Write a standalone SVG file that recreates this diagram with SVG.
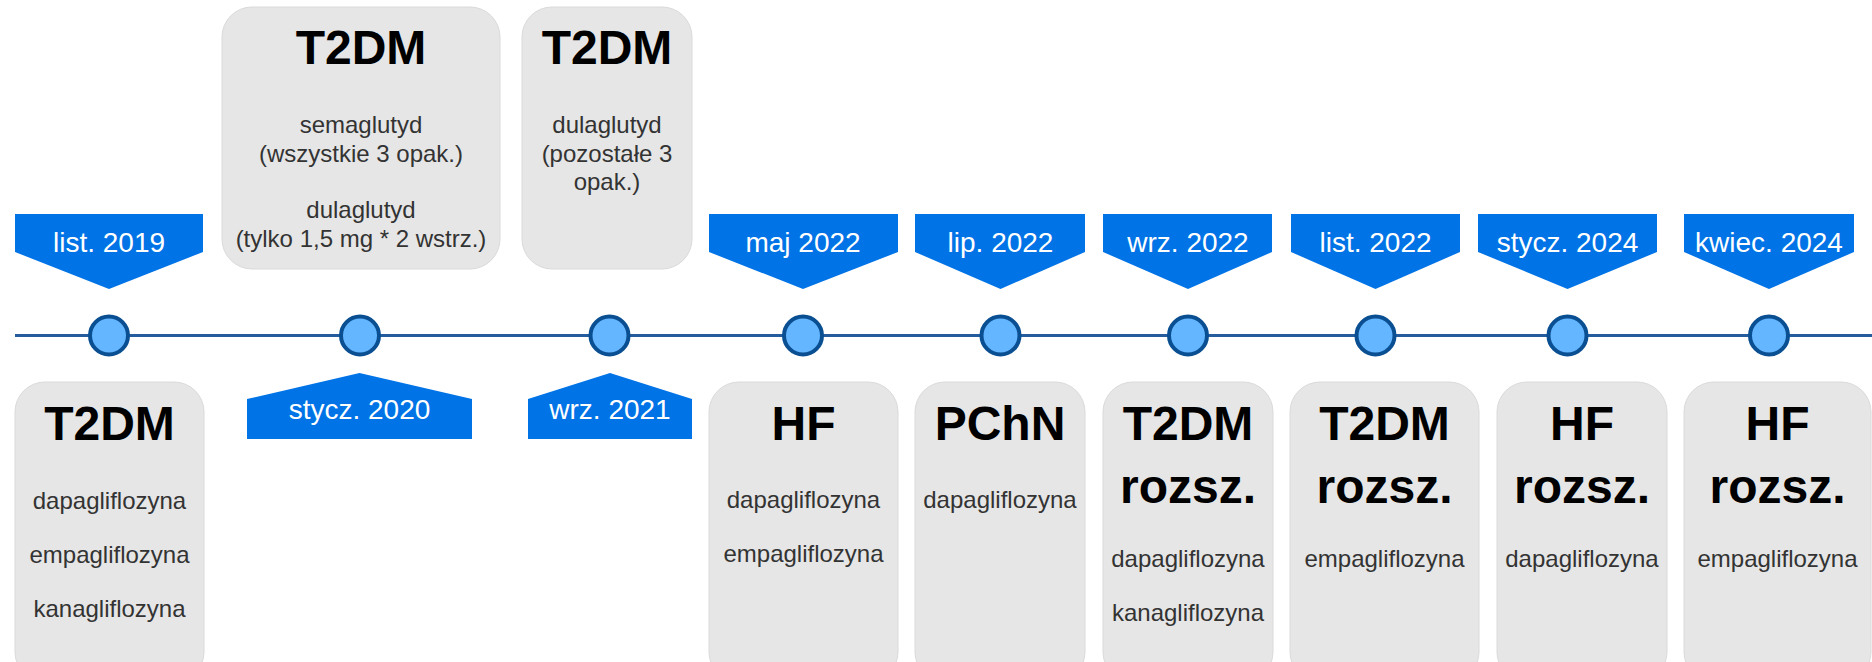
<svg xmlns="http://www.w3.org/2000/svg" width="1872" height="662" viewBox="0 0 1872 662">
<style>
.box{fill:#e6e6e6;stroke:#dadada;stroke-width:1}
.ban{fill:#0073e6}
.bt{font-family:"Liberation Sans",Arial,sans-serif;font-size:28px;fill:#ffffff;text-anchor:middle}
.ti{font-family:"Liberation Sans",Arial,sans-serif;font-size:48px;font-weight:bold;fill:#000000;text-anchor:middle}
.tx{font-family:"Liberation Sans",Arial,sans-serif;font-size:24px;fill:#333333;text-anchor:middle}
.dot{fill:#63b6ff;stroke:#0b4f93;stroke-width:4}
</style>
<g id="connectors">
<line x1="15" y1="335.5" x2="1872" y2="335.5" stroke="#245c9e" stroke-width="3"/>
</g>
<g id="dots">
<circle class="dot" cx="109" cy="335.5" r="19"/>
<circle class="dot" cx="360" cy="335.5" r="19"/>
<circle class="dot" cx="609.5" cy="335.5" r="19"/>
<circle class="dot" cx="803" cy="335.5" r="19"/>
<circle class="dot" cx="1000.5" cy="335.5" r="19"/>
<circle class="dot" cx="1188" cy="335.5" r="19"/>
<circle class="dot" cx="1375.5" cy="335.5" r="19"/>
<circle class="dot" cx="1567.5" cy="335.5" r="19"/>
<circle class="dot" cx="1769" cy="335.5" r="19"/>
</g>
<g id="b-lis2019"><polygon class="ban" points="15,214 203,214 203,252 109,289 15,252"/><text class="bt" x="109" y="252">list. 2019</text></g>
<g id="b-sty2020"><polygon class="ban" points="247,439 472,439 472,399 359.5,373 247,399"/><text class="bt" x="359.5" y="419">stycz. 2020</text></g>
<g id="b-wrz2021"><polygon class="ban" points="528,439 692,439 692,399 610,373 528,399"/><text class="bt" x="610" y="419">wrz. 2021</text></g>
<g id="b-maj2022"><polygon class="ban" points="709,214 898,214 898,252 803,289 709,252"/><text class="bt" x="803" y="252">maj 2022</text></g>
<g id="b-lip2022"><polygon class="ban" points="915,214 1085,214 1085,252 1000.5,289 915,252"/><text class="bt" x="1000.5" y="252">lip. 2022</text></g>
<g id="b-wrz2022"><polygon class="ban" points="1103,214 1272,214 1272,252 1188,289 1103,252"/><text class="bt" x="1188" y="252">wrz. 2022</text></g>
<g id="b-lis2022"><polygon class="ban" points="1291,214 1460,214 1460,252 1375.5,289 1291,252"/><text class="bt" x="1375.5" y="252">list. 2022</text></g>
<g id="b-sty2024"><polygon class="ban" points="1478,214 1657,214 1657,252 1567.5,289 1478,252"/><text class="bt" x="1567.5" y="252">stycz. 2024</text></g>
<g id="b-kwi2024"><polygon class="ban" points="1684,214 1854,214 1854,252 1769,289 1684,252"/><text class="bt" x="1769" y="252">kwiec. 2024</text></g>

<g id="n-top1"><rect class="box" x="222" y="7" width="278" height="262" rx="30"/>
<text class="ti" x="361" y="64">T2DM</text>
<text class="tx" x="361" y="133">semaglutyd</text>
<text class="tx" x="361" y="161.5">(wszystkie 3 opak.)</text>
<text class="tx" x="361" y="218">dulaglutyd</text>
<text class="tx" x="361" y="246.5">(tylko 1,5 mg * 2 wstrz.)</text></g>
<g id="n-top2"><rect class="box" x="522" y="7" width="170" height="262" rx="30"/>
<text class="ti" x="607" y="64">T2DM</text>
<text class="tx" x="607" y="133">dulaglutyd</text>
<text class="tx" x="607" y="161.5">(pozostałe 3</text>
<text class="tx" x="607" y="190">opak.)</text></g>

<g id="n-bot1"><rect class="box" x="15" y="382" width="189" height="300" rx="30"/>
<text class="ti" x="109.5" y="440">T2DM</text>
<text class="tx" x="109.5" y="509">dapagliflozyna</text>
<text class="tx" x="109.5" y="563">empagliflozyna</text>
<text class="tx" x="109.5" y="617">kanagliflozyna</text></g>
<g id="n-bot2"><rect class="box" x="709" y="382" width="189" height="300" rx="30"/>
<text class="ti" x="803.5" y="440">HF</text>
<text class="tx" x="803.5" y="508">dapagliflozyna</text>
<text class="tx" x="803.5" y="562">empagliflozyna</text></g>
<g id="n-bot3"><rect class="box" x="915" y="382" width="170" height="300" rx="30"/>
<text class="ti" x="1000" y="440">PChN</text>
<text class="tx" x="1000" y="508">dapagliflozyna</text></g>
<g id="n-bot4"><rect class="box" x="1103" y="382" width="170" height="300" rx="30"/>
<text class="ti" x="1188" y="440">T2DM</text>
<text class="ti" x="1188" y="503">rozsz.</text>
<text class="tx" x="1188" y="567">dapagliflozyna</text>
<text class="tx" x="1188" y="621">kanagliflozyna</text></g>
<g id="n-bot5"><rect class="box" x="1290" y="382" width="189" height="300" rx="30"/>
<text class="ti" x="1384.5" y="440">T2DM</text>
<text class="ti" x="1384.5" y="503">rozsz.</text>
<text class="tx" x="1384.5" y="567">empagliflozyna</text></g>
<g id="n-bot6"><rect class="box" x="1497" y="382" width="170" height="300" rx="30"/>
<text class="ti" x="1582" y="440">HF</text>
<text class="ti" x="1582" y="503">rozsz.</text>
<text class="tx" x="1582" y="567">dapagliflozyna</text></g>
<g id="n-bot7"><rect class="box" x="1684" y="382" width="187" height="300" rx="30"/>
<text class="ti" x="1777.5" y="440">HF</text>
<text class="ti" x="1777.5" y="503">rozsz.</text>
<text class="tx" x="1777.5" y="567">empagliflozyna</text></g>
</svg>
